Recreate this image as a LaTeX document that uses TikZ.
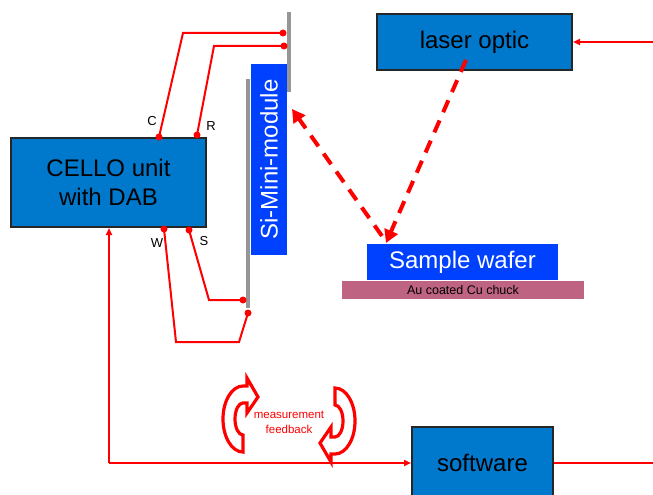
\documentclass[tikz,border=0pt]{standalone}
\usepackage{fontspec}
\setmainfont{Liberation Sans}
\usetikzlibrary{arrows.meta}
\definecolor{boxblue}{RGB}{0,120,204}
\definecolor{brightblue}{RGB}{0,64,255}
\definecolor{chuckcol}{RGB}{190,100,130}
\definecolor{barcol}{RGB}{150,150,150}
\tikzset{
  box/.style={draw=black!85, line width=2pt, fill=boxblue, inner sep=0pt, align=center,
    font=\fontsize{24}{29}\selectfont},
  bluebox/.style={fill=brightblue, inner sep=0pt, text=white, font=\fontsize{24}{29}\selectfont},
  wire/.style={red, line width=2pt},
  dot/.style={circle, fill=red, inner sep=0pt, minimum size=7pt},
  sig/.style={red, line width=1.8pt},
  sigtip/.style={-{Triangle[length=7pt,width=6pt]}},
  beam/.style={red, line width=4pt, dash pattern=on 13pt off 9pt, -{Triangle[length=13pt,width=14pt]}},
  lbl/.style={font=\fontsize{13}{15}\selectfont, inner sep=0pt},
  bar/.style={barcol, line width=4pt},
  cyc/.style={draw=red, line width=3.2pt, fill=white, line join=miter}
}
\begin{document}
\begin{tikzpicture}[x=1pt,y=-1pt]
\useasboundingbox (0,0) rectangle (653,495);
% bars
\draw[bar] (289,12) coordinate (ubt) -- (289,92) coordinate (ubb);
\draw[bar] (248,79) coordinate (lbt) -- (248,308) coordinate (lbb);
% boxes
\node[box, minimum width=195pt, minimum height=89pt] (cello) at (108.5,182.5) {CELLO unit\\with DAB};
\node[box, minimum width=195pt, minimum height=56pt] (laser) at (474.5,42) {laser optic};
\node[box, minimum width=141pt, minimum height=72pt] (sw) at (482.5,463) {software};
\node[bluebox, minimum width=36pt, minimum height=191pt] (si) at (269,159.5) {};
\node[rotate=90, text=white, font=\fontsize{24}{29}\selectfont] (silbl) at (si.center) {Si-Mini-module};
\node[bluebox, minimum width=191pt, minimum height=36pt] (wafer) at (462.5,262) {Sample wafer};
\node[fill=chuckcol, minimum width=242pt, minimum height=18pt, inner sep=0pt,
  font=\fontsize{12.5}{14}\selectfont] (chuck) at (463,290) {Au coated Cu chuck};
% wire dots
\node[dot] (dc) at (159,137) {};
\node[dot] (dr) at (197,135) {};
\node[dot] (dw) at (164,229) {};
\node[dot] (ds) at (189,230) {};
\node[dot] (mc) at (283,33) {};
\node[dot] (mr) at (284,46) {};
\node[dot] (ms) at (243,300) {};
\node[dot] (mw) at (248,313) {};
% wires
\draw[wire] (dc.center) -- (183,33) -- (mc.center);
\draw[wire] (dr.center) -- (214,46) -- (mr.center);
\draw[wire] (ds.center) -- (209,300) -- (ms.center);
\draw[wire] (dw.center) -- (176,342) -- (239,342) -- (mw.center);
% labels
\node[lbl] (lc) at (152,121) {C};
\node[lbl] (lr) at (211,126) {R};
\node[lbl] (lw) at (157,243) {W};
\node[lbl] (ls) at (204,241) {S};
% beams
\coordinate (lstart) at (466,60);
\coordinate (wtop) at (386,243);
\coordinate (rstart) at (382,236);
\coordinate (sitip) at (292,109);
\draw[beam] (lstart) -- (wtop);
\draw[beam] (rstart) -- (sitip);
% signal lines
\coordinate (lin) at (653,42);
\coordinate (swout) at (653,463);
\coordinate (fb) at (109,463);
\draw[sig, sigtip] (lin) -- (laser.east);
\draw[sig] (sw.east) -- (swout);
\draw[sig, sigtip] (fb) -- (cello.south -| fb);
\draw[sig, sigtip] (fb) -- (sw.west);
% cycle arrows
\begin{scope}[shift={(243,419)}]
\draw[cyc] (0,33) arc[start angle=90, end angle=270, x radius=20, y radius=33]
  -- (4,-33) -- (4,-41) -- (15,-22) -- (4,-6) -- (4,-16) -- (0,-16)
  arc[start angle=270, end angle=90, x radius=8, y radius=16] -- cycle;
\end{scope}
\begin{scope}[shift={(335,421)}, rotate=180]
\draw[cyc] (0,33) arc[start angle=90, end angle=270, x radius=20, y radius=33]
  -- (4,-33) -- (4,-41) -- (15,-22) -- (4,-6) -- (4,-16) -- (0,-16)
  arc[start angle=270, end angle=90, x radius=8, y radius=16] -- cycle;
\end{scope}
\node[text=red, align=center, font=\fontsize{11.5}{15}\selectfont] (fbtext) at (289,422) {measurement\\feedback};
\end{tikzpicture}
\end{document}
